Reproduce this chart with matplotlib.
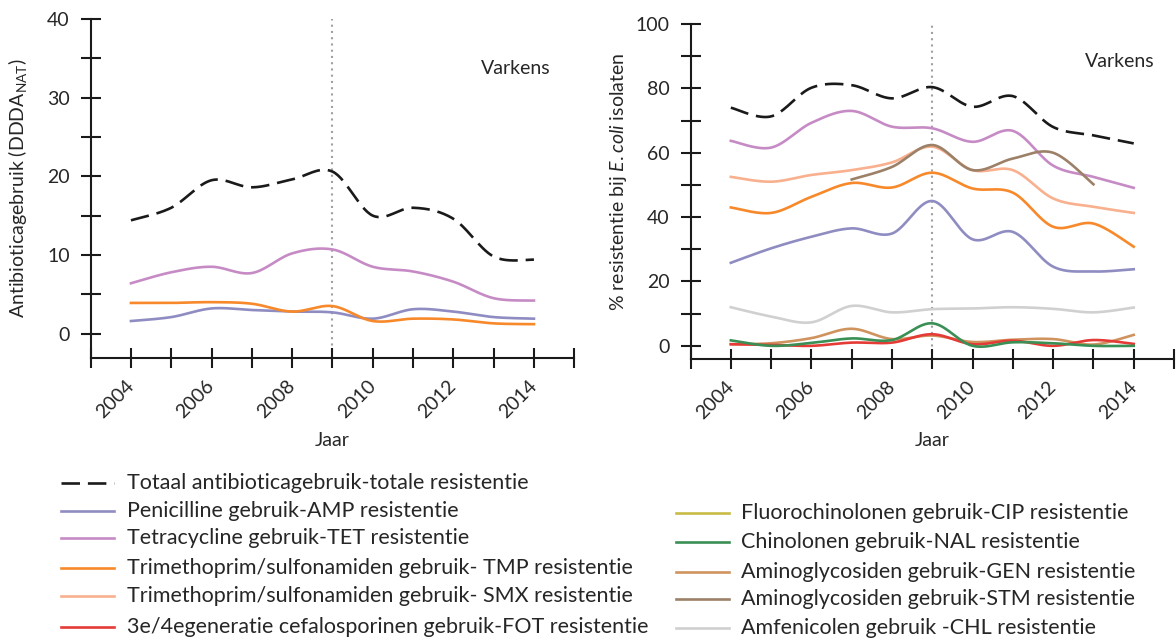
import numpy as np
import matplotlib
matplotlib.use("Agg")
import matplotlib.pyplot as plt
from matplotlib.lines import Line2D
from matplotlib.ticker import MultipleLocator, FuncFormatter

FONT = "Lato"
plt.rcParams["font.family"] = [FONT, "DejaVu Sans"]
plt.rcParams["mathtext.fontset"] = "custom"
plt.rcParams["mathtext.rm"] = FONT
plt.rcParams["mathtext.it"] = FONT + ":italic"

years = list(range(2004, 2015))
stm_years = list(range(2007, 2014))

# antibiotic use (DDDA_NAT), pigs
use_total = [14.4, 16.0, 19.5, 18.6, 19.6, 20.6, 15.0, 16.0, 14.6, 9.8, 9.4]
use_amp = [1.6, 2.1, 3.2, 3.0, 2.8, 2.7, 1.9, 3.1, 2.8, 2.1, 1.9]
use_tet = [6.4, 7.8, 8.5, 7.7, 10.2, 10.7, 8.5, 7.9, 6.6, 4.5, 4.2]
use_tmp = [3.9, 3.9, 4.0, 3.8, 2.8, 3.5, 1.6, 1.9, 1.8, 1.3, 1.2]

# % resistance in E. coli isolates, pigs
res_total = [74.0, 71.3, 80.2, 81.0, 76.9, 80.4, 74.3, 77.6, 68.0, 65.4, 62.9]
res_amp = [25.8, 30.3, 33.9, 36.5, 34.9, 45.0, 33.1, 35.4, 24.6, 23.1, 23.8]
res_tet = [63.7, 61.6, 69.3, 73.0, 68.1, 67.6, 63.4, 66.8, 56.0, 52.5, 49.1]
res_tmp = [43.0, 41.3, 46.3, 50.6, 49.2, 53.8, 48.9, 47.6, 37.0, 38.0, 30.8]
res_smx = [52.5, 51.0, 53.1, 54.6, 57.0, 61.9, 54.6, 54.6, 45.8, 43.2, 41.3]
res_fot = [0.5, 0.3, 0.0, 1.0, 1.0, 3.6, 0.5, 1.6, 0.0, 1.8, 0.6]
res_nal = [1.7, 0.0, 0.9, 2.3, 1.8, 7.0, 0.0, 1.1, 0.8, 0.0, 0.0]
res_gen = [0.5, 0.8, 2.4, 5.3, 2.1, 3.2, 1.2, 1.9, 2.1, 0.4, 3.4]
res_stm = [51.7, 55.6, 62.4, 54.6, 58.2, 60.0, 50.2]
res_chl = [12.0, 9.1, 7.3, 12.4, 10.4, 11.4, 11.6, 12.0, 11.5, 10.4, 11.9]

C_TOTAL = "#1a1a1a"
C_AMP = "#8f8cc2"
C_TET = "#c68bc5"
C_TMP = "#f7892b"
C_SMX = "#f8b08e"
C_FOT = "#e53b36"
C_CIP = "#c8bb45"
C_NAL = "#3a8f55"
C_GEN = "#cf935e"
C_STM = "#9c8168"
C_CHL = "#d0d0d0"
C_AX = "#1a1a1a"
C_TXT = "#262626"

DASH = (0, (7, 3))
LW = 1.9


def smooth(xs, ys, n=30):
    # Catmull-Rom curve through the points (like Excel "smoothed line")
    x = np.asarray(xs, float)
    y = np.asarray(ys, float)
    px = np.concatenate([[x[0]], x, [x[-1]]])
    py = np.concatenate([[y[0]], y, [y[-1]]])
    out_x, out_y = [], []
    t = np.linspace(0, 1, n, endpoint=False)
    for i in range(1, len(px) - 2):
        for arr, out in ((px, out_x), (py, out_y)):
            p0, p1, p2, p3 = arr[i - 1], arr[i], arr[i + 1], arr[i + 2]
            m1 = (p2 - p0) / 2
            m2 = (p3 - p1) / 2
            h00 = 2 * t**3 - 3 * t**2 + 1
            h10 = t**3 - 2 * t**2 + t
            h01 = -2 * t**3 + 3 * t**2
            h11 = t**3 - t**2
            out.extend(h00 * p1 + h10 * m1 + h01 * p2 + h11 * m2)
    out_x.append(x[-1])
    out_y.append(y[-1])
    return out_x, out_y


def style_axes(ax, ymax, ymin, major, minor):
    ax.set_xlim(2003, 2015)
    ax.set_ylim(ymin, ymax)
    for s in ("top", "right"):
        ax.spines[s].set_visible(False)
    for s in ("left", "bottom"):
        ax.spines[s].set_linewidth(1.5)
        ax.spines[s].set_color(C_AX)
    ax.yaxis.set_major_locator(MultipleLocator(major))
    ax.yaxis.set_minor_locator(MultipleLocator(minor))
    ax.xaxis.set_major_locator(MultipleLocator(1))
    ax.xaxis.set_major_formatter(FuncFormatter(
        lambda v, p: f"{int(round(v))}" if 2004 <= round(v) <= 2014 and round(v) % 2 == 0 else ""))
    ax.tick_params(axis="both", which="both", direction="inout", length=14,
                   width=1.5, color=C_AX, labelcolor=C_TXT, labelsize=14)
    ax.tick_params(axis="y", which="major", pad=8)
    ax.tick_params(axis="x", which="major", pad=11)
    for lab in ax.get_xticklabels():
        lab.set_rotation(45)
        lab.set_ha("right")
        lab.set_va("center")
        lab.set_rotation_mode("anchor")
    ax.axvline(2009, color="#a0a0a0", lw=1.5, ls=(0, (1, 2)), zorder=0)
    ax.text(0.5, -0.242, "Jaar", transform=ax.transAxes, ha="center",
            va="center", fontsize=14, color=C_TXT)


fig = plt.figure(figsize=(11.76, 6.41), dpi=100)
ax1 = fig.add_axes([0.0771, 0.4415, 0.4112, 0.5289])
ax2 = fig.add_axes([0.5872, 0.4399, 0.4111, 0.5226])

# left: usage
ax1.plot(*smooth(years, use_total), color=C_TOTAL, lw=LW, ls=DASH)
ax1.plot(*smooth(years, use_amp), color=C_AMP, lw=LW)
ax1.plot(*smooth(years, use_tet), color=C_TET, lw=LW)
ax1.plot(*smooth(years, use_tmp), color=C_TMP, lw=LW)
style_axes(ax1, 40, -3.1, 10, 5)
ax1.text(-0.152, 0.5, r"Antibioticagebruik (DDDA$_{\mathrm{NAT}}$)",
         transform=ax1.transAxes, rotation=90, ha="center", va="center",
         fontsize=14, color=C_TXT)
ax1.text(0.88, 0.855, "Varkens", transform=ax1.transAxes, ha="center",
         va="center", fontsize=14, color=C_TXT)

# right: resistance
ax2.plot(*smooth(years, res_total), color=C_TOTAL, lw=LW, ls=DASH)
ax2.plot(*smooth(years, res_chl), color=C_CHL, lw=LW)
ax2.plot(*smooth(years, res_amp), color=C_AMP, lw=LW)
ax2.plot(*smooth(years, res_tet), color=C_TET, lw=LW)
ax2.plot(*smooth(years, res_smx), color=C_SMX, lw=LW)
ax2.plot(*smooth(years, res_tmp), color=C_TMP, lw=LW)
ax2.plot(*smooth(stm_years, res_stm), color=C_STM, lw=LW)
ax2.plot(*smooth(years, res_gen), color=C_GEN, lw=LW)
ax2.plot(*smooth(years, res_fot), color=C_FOT, lw=LW)
ax2.plot(*smooth(years, res_nal), color=C_NAL, lw=LW)
style_axes(ax2, 100, -4.1, 20, 10)
ax2.text(-0.150, 0.528, r"% resistentie bij $\it{E.coli}$ isolaten",
         transform=ax2.transAxes, rotation=90, ha="center", va="center",
         fontsize=14, color=C_TXT)
ax2.text(0.888, 0.887, "Varkens", transform=ax2.transAxes, ha="center",
         va="center", fontsize=14, color=C_TXT)

# legend, two columns drawn by hand
W, H = 1176, 641
left_items = [
    ("Totaal antibioticagebruik-totale resistentie", C_TOTAL, DASH),
    ("Penicilline gebruik-AMP resistentie", C_AMP, "-"),
    ("Tetracycline gebruik-TET resistentie", C_TET, "-"),
    ("Trimethoprim/sulfonamiden gebruik- TMP resistentie", C_TMP, "-"),
    ("Trimethoprim/sulfonamiden gebruik- SMX resistentie", C_SMX, "-"),
    ("3e/4egeneratie cefalosporinen gebruik-FOT resistentie", C_FOT, "-"),
]
right_items = [
    ("Fluorochinolonen gebruik-CIP resistentie", C_CIP, "-"),
    ("Chinolonen gebruik-NAL resistentie", C_NAL, "-"),
    ("Aminoglycosiden gebruik-GEN resistentie", C_GEN, "-"),
    ("Aminoglycosiden gebruik-STM resistentie", C_STM, "-"),
    ("Amfenicolen gebruik -CHL resistentie", C_CHL, "-"),
]
left_rows = [482.7, 510.7, 538.3, 568.3, 596.0, 626.7]
right_rows = [512.7, 542.3, 571.7, 599.0, 628.3]


def draw_legend(items, rows, x0, x1, xt):
    for (label, color, ls), py in zip(items, rows):
        fy = 1 - py / H
        fig.add_artist(Line2D([x0 / W, x1 / W], [fy, fy], transform=fig.transFigure,
                              color=color, lw=LW, ls=ls))
        fig.text(xt / W, fy, label, ha="left", va="center", fontsize=15.5, color=C_TXT)


draw_legend(left_items, left_rows, 61, 114, 127)
draw_legend(right_items, right_rows, 676, 729, 741)

fig.savefig("out.png", dpi=100)
